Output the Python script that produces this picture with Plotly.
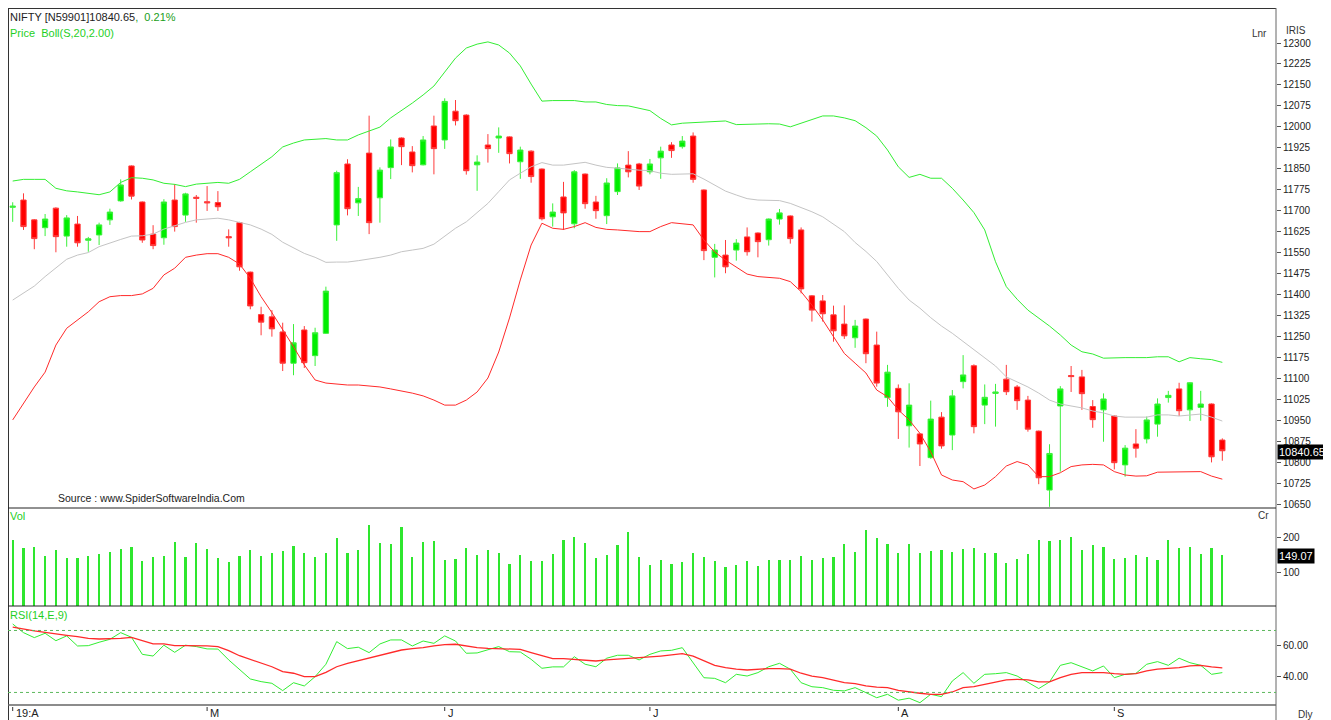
import plotly.graph_objects as go

# ---------------- data ----------------
opens = [11712, 11738, 11667, 11639, 11709, 11609, 11652, 11594, 11613, 11667,
         11735, 11860, 11731, 11616, 11603, 11738, 11684, 11748, 11732, 11729,
         11607, 11657, 11480, 11328, 11320, 11266, 11154, 11273, 11181, 11261,
         11649, 11867, 11728, 11906, 11746, 11854, 11960, 11910, 11864, 12003,
         11953, 12056, 12042, 11864, 11935, 11960, 11964, 11875, 11913, 11849,
         11678, 11749, 11653, 11831, 11731, 11682, 11768, 11863, 11867, 11839,
         11889, 11935, 11929, 11967, 11774, 11533, 11541, 11559, 11606, 11620,
         11596, 11670, 11681, 11631, 11395, 11377, 11327, 11294, 11245, 11312,
         11219, 11031, 11064, 10930, 10901, 10816, 10961, 10897, 11088, 11145,
         11004, 11046, 11097, 11069, 11022, 10911, 10700, 11001, 11110, 11105,
         10999, 10987, 10965, 10790, 10865, 10883, 10936, 11031, 11062, 10987,
         10996, 11008, 10879]
highs = [11730, 11762, 11670, 11688, 11712, 11684, 11681, 11606, 11657, 11707,
         11812, 11862, 11733, 11648, 11741, 11795, 11764, 11756, 11788, 11770,
         11633, 11660, 11482, 11356, 11344, 11299, 11294, 11287, 11281, 11428,
         11843, 11884, 11785, 12040, 11855, 11955, 11962, 11931, 11967, 12040,
         12102, 12096, 12045, 11898, 11974, 11998, 11966, 11929, 11916, 11851,
         11726, 11803, 11845, 11833, 11753, 11816, 11869, 11913, 11871, 11885,
         11929, 11945, 11967, 11980, 11776, 11581, 11595, 11598, 11640, 11622,
         11672, 11706, 11683, 11640, 11398, 11398, 11360, 11361, 11309, 11314,
         11267, 11148, 11078, 11082, 10903, 11020, 10979, 11058, 11183, 11150,
         11078, 11080, 11148, 11076, 11037, 10913, 10864, 11072, 11144, 11130,
         11022, 11046, 10967, 10861, 10918, 10963, 11028, 11055, 11084, 11086,
         11055, 11010, 10885]
lows = [11660, 11631, 11562, 11609, 11551, 11571, 11571, 11553, 11577, 11649,
        11732, 11740, 11585, 11562, 11578, 11625, 11660, 11657, 11699, 11699,
        11571, 11485, 11347, 11254, 11249, 11126, 11111, 11137, 11144, 11259,
        11592, 11683, 11681, 11616, 11657, 11813, 11863, 11837, 11862, 11830,
        11921, 12005, 11829, 11771, 11872, 11907, 11869, 11814, 11800, 11665,
        11643, 11631, 11637, 11707, 11671, 11652, 11756, 11819, 11774, 11830,
        11814, 11889, 11922, 11800, 11523, 11461, 11476, 11521, 11539, 11533,
        11575, 11650, 11582, 11404, 11303, 11303, 11231, 11241, 11209, 11154,
        11070, 10998, 10883, 10852, 10786, 10812, 10848, 10843, 11064, 10903,
        10936, 10927, 11040, 10987, 10909, 10721, 10640, 10766, 11051, 10987,
        10923, 10873, 10774, 10748, 10816, 10867, 10891, 11013, 10965, 10947,
        10948, 10799, 10805]
closes = [11716, 11643, 11600, 11670, 11607, 11674, 11585, 11599, 11649, 11695,
          11792, 11752, 11595, 11575, 11731, 11643, 11760, 11744, 11728, 11714,
          11603, 11499, 11359, 11301, 11277, 11154, 11227, 11156, 11263, 11412,
          11836, 11707, 11743, 11657, 11845, 11928, 11929, 11861, 11953, 11922,
          12091, 12022, 11843, 11874, 11922, 11967, 11904, 11917, 11822, 11671,
          11695, 11692, 11839, 11725, 11700, 11799, 11853, 11839, 11788, 11867,
          11913, 11915, 11949, 11812, 11557, 11559, 11499, 11584, 11553, 11589,
          11670, 11692, 11600, 11420, 11344, 11331, 11270, 11252, 11287, 11188,
          11083, 11122, 10980, 11004, 10865, 10954, 10858, 11037, 11112, 10927,
          11032, 11051, 11052, 11020, 10918, 10744, 10831, 11062, 11106, 11045,
          10952, 11026, 10798, 10850, 10850, 10951, 11008, 11039, 10984, 11084,
          11008, 10819, 10840.65]

boll_upper = [11806, 11812, 11812, 11812, 11780, 11771, 11767, 11762, 11757, 11767,
              11801, 11818, 11816, 11810, 11798, 11794, 11786, 11795, 11799, 11801,
              11798, 11812, 11839, 11866, 11893, 11928, 11942, 11953, 11956, 11958,
              11953, 11953, 11971, 11985, 11999, 12032, 12057, 12085, 12114, 12146,
              12196, 12246, 12282, 12296, 12304, 12293, 12264, 12218, 12153, 12092,
              12094, 12094, 12094, 12089, 12089, 12080, 12076, 12075, 12067, 12058,
              12030, 12007, 12013, 12015, 12018, 12021, 12021, 12008, 12008, 12010,
              12011, 12010, 12000, 12013, 12028, 12039, 12039, 12032, 12022, 11997,
              11967, 11917, 11857, 11819, 11830, 11816, 11816, 11780, 11738, 11693,
              11631, 11517, 11428, 11383, 11344, 11317, 11287, 11255, 11219, 11195,
              11187, 11172, 11174, 11174, 11174, 11174, 11177, 11177, 11159, 11174,
              11170, 11167, 11157]
boll_mid = [11380, 11405, 11430, 11464, 11494, 11526, 11541, 11550, 11571, 11585,
            11597, 11609, 11610, 11616, 11634, 11646, 11658, 11667, 11671, 11673,
            11667, 11658, 11649, 11634, 11615, 11587, 11567, 11547, 11533, 11515,
            11516, 11516, 11521, 11526, 11533, 11541, 11553, 11559, 11565, 11580,
            11607, 11637, 11660, 11693, 11726, 11768, 11810, 11834, 11857, 11872,
            11863, 11863, 11869, 11873, 11863, 11855, 11852, 11848, 11845, 11843,
            11834, 11830, 11831, 11832, 11813, 11792, 11770, 11756, 11743, 11738,
            11736, 11736, 11726, 11712, 11696, 11678, 11652, 11625, 11586, 11554,
            11518, 11470, 11422, 11380, 11351, 11317, 11287, 11261, 11232, 11201,
            11173, 11144, 11105, 11087, 11069, 11047, 11022, 11008, 11001, 10994,
            10983, 10976, 10965, 10961, 10961, 10961, 10969, 10969, 10965, 10969,
            10972, 10961, 10947]
boll_lower = [10951, 11012, 11069, 11122, 11219, 11279, 11309, 11338, 11374, 11392,
              11396, 11396, 11402, 11422, 11470, 11494, 11533, 11541, 11546, 11546,
              11533, 11509, 11458, 11392, 11335, 11275, 11213, 11148, 11094, 11083,
              11080, 11076, 11076, 11072, 11069, 11062, 11055, 11047, 11037, 11022,
              11004, 11004, 11022, 11051, 11101, 11194, 11316, 11452, 11577, 11655,
              11637, 11633, 11643, 11657, 11640, 11633, 11631, 11627, 11625, 11625,
              11643, 11657, 11652, 11649, 11595, 11552, 11523, 11499, 11473, 11464,
              11461, 11458, 11446, 11410, 11362, 11309, 11249, 11189, 11154, 11119,
              11058, 11034, 10987, 10951, 10903, 10837, 10754, 10736, 10730, 10704,
              10718, 10748, 10786, 10802, 10790, 10748, 10748, 10762, 10784, 10790,
              10792, 10790, 10766, 10754, 10750, 10751, 10764, 10765, 10766, 10766,
              10766, 10750, 10739]

volume = [194, 171, 174, 148, 165, 142, 142, 148, 152, 160,
          168, 174, 133, 145, 148, 188, 145, 184, 168, 142,
          130, 148, 166, 148, 157, 162, 176, 155, 145, 157,
          199, 157, 165, 237, 186, 182, 232, 144, 188, 190,
          136, 139, 171, 151, 166, 156, 124, 151, 133, 131,
          153, 193, 203, 185, 141, 151, 179, 218, 144, 122,
          136, 124, 129, 156, 144, 133, 114, 120, 133, 117,
          136, 136, 136, 148, 136, 142, 145, 182, 160, 224,
          201, 182, 156, 182, 157, 163, 165, 160, 168, 171,
          157, 157, 127, 139, 154, 193, 190, 195, 204, 165,
          179, 174, 139, 142, 150, 145, 136, 193, 171, 173,
          154, 171, 149.07]

rsi = [74.2, 68.6, 65.4, 68.2, 63.4, 66.5, 60.0, 60.2, 62.4, 64.3,
       68.6, 65.6, 54.6, 53.5, 60.5, 55.9, 60.5, 59.6, 58.1, 58.0,
       51.0, 45.0, 38.7, 37.0, 35.9, 31.2, 36.3, 34.2, 40.2, 48.2,
       62.8, 58.3, 59.2, 55.7, 61.3, 63.9, 63.9, 60.0, 63.2, 61.7,
       66.5, 63.2, 55.3, 55.5, 57.4, 59.6, 56.3, 56.1, 51.4, 45.6,
       46.5, 46.5, 53.1, 48.2, 46.6, 52.1, 54.0, 54.0, 51.0, 54.6,
       56.8, 57.2, 58.9, 49.2, 39.5, 39.1, 36.3, 41.7, 40.6, 42.8,
       46.6, 48.8, 45.0, 36.3, 33.7, 33.1, 31.4, 31.0, 33.1, 29.9,
       26.6, 28.8, 25.0, 26.3, 23.4, 28.8, 27.3, 37.4, 42.8, 35.9,
       41.7, 42.1, 42.8, 40.6, 36.8, 32.5, 36.8, 47.5, 49.2, 46.6,
       43.9, 47.1, 39.5, 41.7, 42.3, 48.2, 49.9, 47.5, 52.1, 49.2,
       47.5, 41.7, 42.8]
rsi_signal = [72.1, 70.8, 69.7, 68.8, 67.7, 66.9, 66.0, 64.9, 64.5, 64.5,
              64.9, 65.6, 63.4, 61.3, 61.3, 60.2, 60.2, 60.2, 60.0, 59.6,
              57.0, 53.7, 51.4, 48.8, 46.6, 43.4, 42.4, 40.2, 40.2, 43.0,
              46.6, 48.8, 50.5, 52.1, 54.2, 55.8, 57.4, 58.3, 58.9, 60.0,
              60.9, 61.1, 60.0, 58.9, 58.5, 58.3, 58.3, 57.8, 55.7, 53.5,
              51.8, 51.8, 51.4, 51.0, 50.3, 51.0, 51.4, 51.8, 52.1, 52.9,
              53.5, 54.2, 55.0, 53.5, 50.3, 47.5, 46.0, 45.0, 44.5, 45.0,
              45.4, 45.4, 45.0, 42.4, 40.6, 39.5, 38.1, 36.3, 35.7, 34.2,
              33.5, 33.1, 31.4, 30.3, 29.5, 28.8, 28.8, 30.3, 33.1, 33.7,
              35.3, 36.8, 38.1, 38.5, 38.1, 36.8, 36.8, 39.5, 41.7, 42.8,
              42.8, 42.8, 42.1, 41.7, 42.1, 43.9, 45.0, 45.6, 46.0, 47.1,
              47.5, 46.5, 45.8]
rsi_levels = [70, 30]

month_starts = [0, 18, 40, 59, 82, 102]
month_labels = ["19:A", "M", "J", "J", "A", "S"]

price_ticks = list(range(10650, 12301, 75))
volume_ticks = [100, 200]
rsi_ticks = [40, 60]

last_price = "10840.65"
last_volume = "149.07"

idx = list(range(len(closes)))

# ---------------- layout geometry ----------------
# The page body keeps its default 8px margin, so the figure starts at page (8, 8).
# All positions below are given in page pixels of the 1331x720 window.
OFF = 8
PAGE_W, PAGE_H = 1331, 720
W, H = PAGE_W - OFF, PAGE_H - OFF
PL, PR, PT, PB = 8, 1276, 8, 705


def fx(px):
    return (px - PL) / (PR - PL)


def fy(py):
    return (PB - py) / (PB - PT)


main_dom = [fy(508), 1.0]
vol_dom = [fy(606), fy(508)]
rsi_dom = [0.0, fy(606)]
x_range = [-0.435, 116.97]

FONT = "Liberation Sans"
GREEN_TXT = "#1fcf1f"

fig = go.Figure()

fig.add_trace(go.Candlestick(
    x=idx, open=opens, high=highs, low=lows, close=closes,
    increasing=dict(line=dict(color="#3cf03c", width=1), fillcolor="#00ee00"),
    decreasing=dict(line=dict(color="#ff3b3b", width=1), fillcolor="#ff0000"),
    whiskerwidth=0, xaxis="x", yaxis="y", hoverinfo="skip",
))
fig.add_trace(go.Scatter(x=idx, y=boll_upper, mode="lines",
                         line=dict(color="#33ee33", width=1), xaxis="x", yaxis="y"))
fig.add_trace(go.Scatter(x=idx, y=boll_mid, mode="lines",
                         line=dict(color="#c4c4c4", width=1), xaxis="x", yaxis="y"))
fig.add_trace(go.Scatter(x=idx, y=boll_lower, mode="lines",
                         line=dict(color="#ff2a2a", width=1), xaxis="x", yaxis="y"))

fig.add_trace(go.Bar(x=idx, y=volume, width=0.2, marker=dict(color="#2ee62e", line=dict(width=0)),
                     xaxis="x2", yaxis="y2"))

fig.add_trace(go.Scatter(x=idx, y=rsi, mode="lines",
                         line=dict(color="#33ee33", width=1), xaxis="x3", yaxis="y3"))
fig.add_trace(go.Scatter(x=idx, y=rsi_signal, mode="lines",
                         line=dict(color="#ff2a2a", width=1.3), xaxis="x3", yaxis="y3"))

xcommon = dict(range=x_range, showgrid=False, zeroline=False, showticklabels=False,
               ticks="", showline=False, fixedrange=True)
ycommon = dict(side="right", showgrid=False, zeroline=False, ticks="outside", ticklen=4,
               tickcolor="#555555", showline=False,
               tickfont=dict(family=FONT, size=10, color="#222222"))

fig.update_layout(
    width=W, height=H,
    margin=dict(l=PL - OFF, r=PAGE_W - PR, t=PT - OFF, b=PAGE_H - PB, pad=0),
    paper_bgcolor="white", plot_bgcolor="white",
    showlegend=False, bargap=0,
    xaxis=dict(domain=[0, 1], anchor="y", rangeslider=dict(visible=False), **xcommon),
    xaxis2=dict(domain=[0, 1], anchor="y2", matches="x", **xcommon),
    xaxis3=dict(domain=[0, 1], anchor="y3", matches="x", **xcommon),
    yaxis=dict(domain=main_dom, anchor="x", range=[10635.8, 12425.3],
               tickvals=price_ticks, ticktext=[str(v) for v in price_ticks], **ycommon),
    yaxis2=dict(domain=vol_dom, anchor="x2", range=[0, 288.2],
                tickvals=volume_ticks, ticktext=[str(v) for v in volume_ticks], **ycommon),
    yaxis3=dict(domain=rsi_dom, anchor="x3", range=[21.9, 85.8],
                tickvals=rsi_ticks, ticktext=["%.2f" % v for v in rsi_ticks], **ycommon),
)

shapes = []
line_dark = dict(color="#333333", width=1)
# frame and panel separators
shapes.append(dict(type="line", xref="paper", yref="paper", x0=0, x1=1, y0=fy(8.5), y1=fy(8.5), line=line_dark))
shapes.append(dict(type="line", xref="paper", yref="paper", x0=fx(8.5), x1=fx(8.5), y0=fy(720), y1=1, line=line_dark))
shapes.append(dict(type="line", xref="paper", yref="paper", x0=1, x1=1, y0=fy(720), y1=1,
                   line=dict(color="#666666", width=1)))
for sep in (508, 606):
    shapes.append(dict(type="line", xref="paper", yref="paper", x0=0, x1=1, y0=fy(sep), y1=fy(sep),
                       line=dict(color="#222222", width=1)))
shapes.append(dict(type="line", xref="paper", yref="paper", x0=0, x1=1, y0=0, y1=0,
                   line=dict(color="#666666", width=1.5)))
# RSI reference levels
for lv in rsi_levels:
    shapes.append(dict(type="line", xref="paper", yref="y3", x0=0, x1=1, y0=lv, y1=lv,
                       line=dict(color="#5cb85c", width=1, dash="dot")))
# month ticks
for m in month_starts:
    shapes.append(dict(type="line", xref="x3", yref="paper", x0=m, x1=m, y0=fy(707), y1=fy(711),
                       line=dict(color="#333333", width=1)))
fig.update_layout(shapes=shapes)

ann = []


def text(px, py, s, color="#222222", size=11, xanchor="left", **kw):
    ann.append(dict(xref="paper", yref="paper", x=fx(px), y=fy(py), text=s, showarrow=False,
                    xanchor=xanchor, yanchor="middle",
                    font=dict(family=FONT, size=size, color=color), **kw))


text(8, 17, "NIFTY [N59901]10840.65<span style='color:#1a9e1a'>,  0.21%</span>", color="#222222")
text(8, 33, "Price  Boll(S,20,2.00)", color=GREEN_TXT)
text(56, 498, "Source : www.SpiderSoftwareIndia.Com", color="#222222", size=10.5)
text(8, 516, "Vol", color=GREEN_TXT)
text(8, 615, "RSI(14,E,9)", color=GREEN_TXT)
text(1250, 33, "Lnr", color="#333333", size=10)
text(1284, 31, "IRIS", color="#333333", size=10)
text(1256, 516, "Cr", color="#333333", size=10)
text(1296, 714, "Dly", color="#333333", size=10)
text(1277, 452, last_price, color="white", size=11, bgcolor="black", borderpad=1)
text(1277, 556, last_volume, color="white", size=11, bgcolor="black", borderpad=1)

for m, lab in zip(month_starts, month_labels):
    ann.append(dict(xref="x3", yref="paper", x=m, y=fy(713), text=lab, showarrow=False,
                    xanchor="left", yanchor="middle", xshift=1,
                    font=dict(family=FONT, size=11, color="#222222")))

fig.update_layout(annotations=ann)

fig.write_html("out.html")
